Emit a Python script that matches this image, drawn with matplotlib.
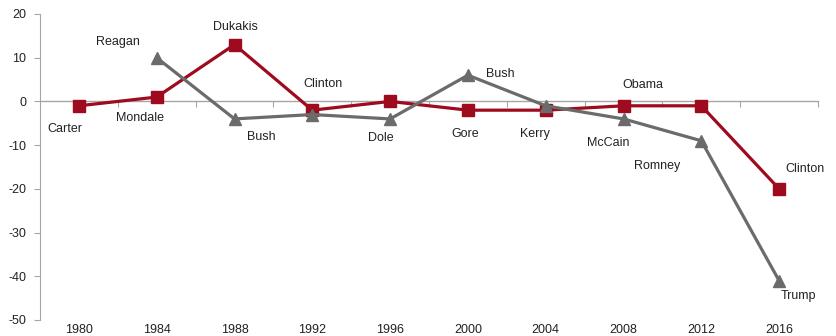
import matplotlib.pyplot as plt

plt.rcParams['font.family'] = ['Liberation Sans', 'DejaVu Sans']
plt.rcParams['axes.unicode_minus'] = False

years = ['1980', '1984', '1988', '1992', '1996', '2000', '2004', '2008', '2012', '2016']

# democratic candidate margin
dem_values = [-1, 1, 13, -2, 0, -2, -2, -1, -1, -20]
dem_names = ['Carter', 'Mondale', 'Dukakis', 'Clinton', '', 'Gore', 'Kerry', 'Obama', '', 'Clinton']

# republican candidate margin (no value for 1980)
rep_values = [None, 10, -4, -3, -4, 6, -1, -4, -9, -41]
rep_names = ['', 'Reagan', 'Bush', '', 'Dole', 'Bush', '', 'McCain', 'Romney', 'Trump']

# label offsets in points
dem_offsets = [(-10, -17), (-12, -15), (1, 13), (8, 19), (0, 0), (-2, -17), (-8, -17), (14, 15), (0, 0), (19, 14)]
rep_offsets = [(0, 0), (-28, 11), (19, -13), (0, 0), (-7, -14), (23, 1), (0, 0), (-11, -17), (-32, -18), (14, -11)]

red = '#9E0A1E'
grey = '#6B6B6B'
axis_grey = '#A6A6A6'

fig = plt.figure(figsize=(8.37, 3.36), dpi=100)
ax = fig.add_axes([40 / 837, 1 - 320 / 336, 778 / 837, 306 / 336])

x = list(range(len(years)))
rx = [i for i, v in zip(x, rep_values) if v is not None]
rv = [v for v in rep_values if v is not None]

ax.plot(x, dem_values, color=red, lw=2.3, marker='s', ms=8.5, zorder=3)
ax.plot(rx, rv, color=grey, lw=2.3, marker='^', ms=8.5, zorder=4)

for i, (name, v) in enumerate(zip(dem_names, dem_values)):
    if name:
        ax.annotate(name, (i, v), xytext=dem_offsets[i], textcoords='offset points',
                    ha='center', va='center', fontsize=9, color='#222222')
for i, (name, v) in enumerate(zip(rep_names, rep_values)):
    if name:
        ax.annotate(name, (i, v), xytext=rep_offsets[i], textcoords='offset points',
                    ha='center', va='center', fontsize=9, color='#222222')

ax.set_xlim(-0.5, len(years) - 0.5)
ax.set_ylim(-50, 20)
ax.set_yticks(range(-50, 21, 10))
ax.set_xticks(x)
ax.set_xticklabels(years)

for s in ['top', 'right', 'bottom']:
    ax.spines[s].set_visible(False)
ax.spines['left'].set_color(axis_grey)
ax.tick_params(axis='y', colors=axis_grey, labelcolor='#222222', labelsize=9, length=4, pad=6)
ax.tick_params(axis='x', length=0, labelsize=9, labelcolor='#222222', pad=3)

# zero line with category boundary ticks
zero = ax.secondary_xaxis(50 / 70)
zero.set_xticks([i + 0.5 for i in x])
zero.xaxis.set_ticks_position('bottom')
zero.tick_params(axis='x', direction='out', length=4, colors=axis_grey,
                 labelbottom=False, labeltop=False)
for sp in zero.spines.values():
    sp.set_color(axis_grey)
    sp.set_linewidth(1.0)

fig.savefig('out.png', dpi=100)
